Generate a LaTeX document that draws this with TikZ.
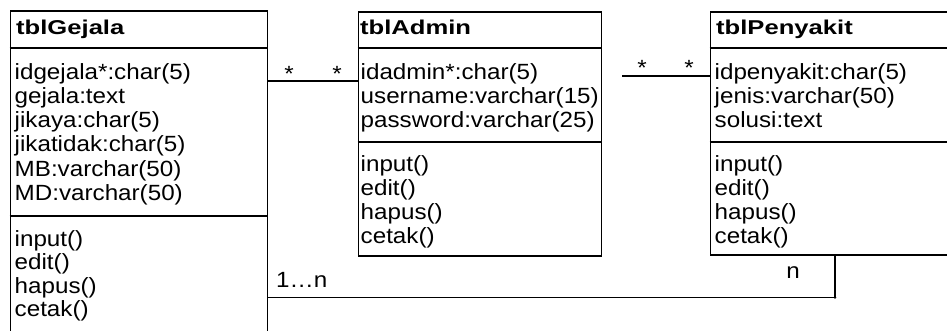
\documentclass[tikz,border=0pt]{standalone}
\usepackage{fontspec}
\setmainfont{Liberation Sans}
\newfontfamily\attrfont{Liberation Sans}[FakeStretch=1.1]
\newfontfamily\titlefont{Liberation Sans}[FakeStretch=1.28]
\tikzset{
  classbox/.style={draw, line width=1.8pt, inner sep=0pt, anchor=north west},
  sep/.style={line width=1.8pt},
  conn/.style={line width=1.8pt},
  txt/.style={font=\attrfont\fontsize{22}{24}\selectfont, anchor=base west, inner sep=0pt},
  ttl/.style={font=\titlefont\bfseries\fontsize{20}{24}\selectfont, anchor=base west, inner sep=0pt},
  mult/.style={font=\attrfont\fontsize{22}{24}\selectfont, anchor=base, inner sep=0pt},
}
\begin{document}
\begin{tikzpicture}[x=1pt,y=-1pt]
\useasboundingbox (0,0) rectangle (947,331);
\clip (0,0) rectangle (947,331);
\fill[white] (0,0) rectangle (947,331);

% ---- tblGejala ----
\node[classbox, minimum width=257pt, minimum height=340pt] (gejala) at (9.5,10) {};
\draw[sep] (9.5,48) -- (266.5,48);
\draw[sep] (9.5,216) -- (266.5,216);
\node[ttl] (gt) at (16,35) {tblGejala};
\node[txt] (g1) at (14.5,80) {idgejala*:char(5)};
\node[txt] (g2) at (14.5,104) {gejala:text};
\node[txt] (g3) at (14.5,128) {jikaya:char(5)};
\node[txt] (g4) at (14.5,152) {jikatidak:char(5)};
\node[txt] (g5) at (14.5,176.5) {MB:varchar(50)};
\node[txt] (g6) at (14.5,200.5) {MD:varchar(50)};
\node[txt] (gm1) at (14.5,246) {input()};
\node[txt] (gm2) at (14.5,269.5) {edit()};
\node[txt] (gm3) at (14.5,293) {hapus()};
\node[txt] (gm4) at (14.5,316.5) {cetak()};

% ---- tblAdmin ----
\node[classbox, minimum width=243pt, minimum height=244pt] (admin) at (357.5,11) {};
\draw[sep] (357.5,48) -- (600.5,48);
\draw[sep] (357.5,142) -- (600.5,142);
\node[ttl] (at) at (360,35) {tblAdmin};
\node[txt] (a1) at (360.5,80) {idadmin*:char(5)};
\node[txt] (a2) at (360.5,104) {username:varchar(15)};
\node[txt] (a3) at (360.5,128) {password:varchar(25)};
\node[txt] (am1) at (360.5,172) {input()};
\node[txt] (am2) at (360.5,196) {edit()};
\node[txt] (am3) at (360.5,219.5) {hapus()};
\node[txt] (am4) at (360.5,243) {cetak()};

% ---- tblPenyakit ----
\node[classbox, minimum width=260pt, minimum height=243pt] (penyakit) at (709.5,11) {};
\draw[sep] (709.5,48) -- (969.5,48);
\draw[sep] (709.5,142) -- (969.5,142);
\node[ttl] (pt) at (716,35) {tblPenyakit};
\node[txt] (p1) at (714.5,80) {idpenyakit:char(5)};
\node[txt] (p2) at (714.5,104) {jenis:varchar(50)};
\node[txt] (p3) at (714.5,128) {solusi:text};
\node[txt] (pm1) at (714.5,172) {input()};
\node[txt] (pm2) at (714.5,196) {edit()};
\node[txt] (pm3) at (714.5,219.5) {hapus()};
\node[txt] (pm4) at (714.5,243) {cetak()};

% ---- connectors ----
\coordinate (r1) at (0,81);
\draw[conn] (gejala.east |- r1) -- (admin.west |- r1);
\node[mult] (m1) at (289,82) {*};
\node[mult] (m2) at (337,82) {*};

\coordinate (r2) at (0,76);
\coordinate (s2) at (622,76);
\draw[conn] (s2) -- (penyakit.west |- r2);
\node[mult] (m3) at (642,75.5) {*};
\node[mult] (m4) at (689,75.5) {*};

\coordinate (c3) at (835,0);
\coordinate (r3) at (0,297.5);
\draw[conn] (c3 |- penyakit.south) -- (c3 |- r3) -- (gejala.east |- r3);
\fill (c3 |- r3) circle (1.4pt);
\node[txt] (m5) at (276,287) {1…n};
\node[mult] (m6) at (793,278) {n};
\end{tikzpicture}
\end{document}
